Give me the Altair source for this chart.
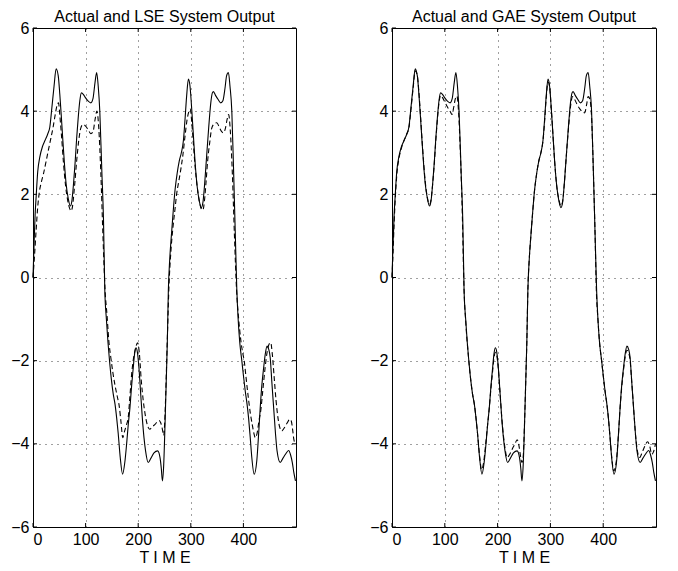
import altair as alt
import pandas as pd

# ---------------- data ----------------
act_t = [0, 2, 4, 6, 9, 13, 18, 23, 28, 32, 36, 40, 44, 48, 51, 54, 57, 60, 63, 67, 71, 74, 77, 80,
         83, 86, 89, 92, 96, 100, 105, 110, 114, 118, 121, 124, 127, 131, 134, 136.5, 139.5, 142.5,
         145, 149, 152.5, 156, 159, 162, 166, 170.3, 174.5, 178, 181, 184.3, 187.5, 190.6, 193, 195.7,
         198.5, 201.4, 204.5, 207.8, 211, 214, 219, 224, 230, 237, 241.5, 244, 246, 248.5, 251, 253.3,
         255.4, 257.3, 260, 263, 266, 270, 274, 278, 282, 286, 289, 292, 295.5, 298.5, 302, 305, 308,
         312, 316, 320, 323, 326, 330, 334, 338, 341, 343, 347, 352, 357, 361, 365, 368, 371.5, 374.5,
         378, 381.5, 384.5, 387.5, 390, 393, 397, 400, 403.5, 407, 410, 413, 416, 420.5, 425.5, 429,
         432, 435, 438.5, 441.5, 445, 448, 451, 454, 457.5, 461, 464, 470, 475, 480, 486, 490, 493,
         496, 499]
act_y = [0.0, 0.8, 1.5, 1.95, 2.55, 2.9, 3.15, 3.3, 3.45, 3.62, 4.1, 4.6, 5.02, 4.85, 4.4, 3.84,
         3.25, 2.7, 2.25, 1.9, 1.72, 1.85, 2.25, 2.75, 3.35, 3.85, 4.25, 4.44, 4.4, 4.32, 4.24, 4.2,
         4.3, 4.7, 4.93, 4.6, 4.0, 2.5, 1.4, -0.3, -1.0, -1.55, -1.93, -2.45, -2.8, -3.05, -3.37,
         -3.75, -4.35, -4.73, -4.45, -4.0, -3.55, -3.13, -2.6, -2.17, -1.85, -1.69, -1.8, -2.17,
         -2.75, -3.37, -3.85, -4.17, -4.45, -4.35, -4.22, -4.17, -4.33, -4.6, -4.89, -4.5, -3.53,
         -2.5, -1.53, -0.32, 0.45, 1.0, 1.5, 2.1, 2.5, 2.8, 3.0, 3.3, 3.8, 4.35, 4.77, 4.6, 4.0, 3.4,
         2.8, 2.2, 1.85, 1.68, 1.8, 2.2, 2.9, 3.6, 4.2, 4.44, 4.47, 4.38, 4.28, 4.2, 4.25, 4.55, 4.85,
         4.93, 4.6, 4.0, 2.5, 1.1, -0.3, -1.0, -1.55, -2.0, -2.35, -2.73, -3.05, -3.4, -3.85, -4.33,
         -4.73, -4.4, -3.75, -3.13, -2.6, -2.17, -1.85, -1.65, -1.72, -1.93, -2.5, -3.13, -3.75,
         -4.17, -4.45, -4.35, -4.25, -4.16, -4.28, -4.45, -4.7, -4.89]

lse_t = [0, 3, 6, 9, 12, 16, 20, 25, 29, 34, 38, 42, 46, 48.5, 51, 54, 58, 62, 66, 70, 72.5, 75, 79,
         83, 87, 91, 95, 100, 105, 110, 114, 118, 121.5, 125, 129, 133, 137, 141, 144, 148, 152, 156,
         160, 164, 167.5, 170.5, 174, 177.5, 181, 184, 187.5, 191, 194, 199, 202, 206, 209.7, 214,
         218, 222, 226, 232, 239.5, 243, 246, 248.5, 251, 253.5, 256, 258.5, 262, 266, 270, 273, 277,
         281, 285, 289, 293, 296.5, 299, 302, 305, 308, 312, 316, 320, 323, 326, 329, 332, 336, 340,
         345, 349.5, 354, 358, 362, 366, 369, 372, 375, 379, 383, 387, 391, 395, 398.5, 401.5, 405,
         409, 413, 417, 420, 422.6, 426, 429.5, 433, 437, 441, 445, 449, 452, 455, 458.5, 462, 466,
         469, 473, 477, 480, 484, 488, 491, 494, 496, 499]
lse_y = [0.0, 0.55, 1.15, 1.7, 2.05, 2.3, 2.5, 2.8, 3.05, 3.35, 3.6, 3.9, 4.15, 4.2, 3.9, 3.44,
         2.75, 2.2, 1.85, 1.65, 1.6, 1.7, 2.2, 2.8, 3.3, 3.6, 3.68, 3.64, 3.55, 3.46, 3.5, 3.8, 4.0,
         3.6, 2.5, 1.0, -0.3, -0.95, -1.5, -1.93, -2.3, -2.6, -2.85, -3.1, -3.5, -3.85, -3.7, -3.55,
         -3.37, -2.9, -2.33, -1.95, -1.75, -1.57, -1.8, -2.5, -2.97, -3.35, -3.57, -3.65, -3.6, -3.53,
         -3.44, -3.5, -3.65, -3.8, -3.3, -2.3, -1.2, -0.2, 0.6, 1.2, 1.65, 2.0, 2.3, 2.6, 2.95, 3.4,
         3.8, 4.0, 4.05, 3.7, 3.2, 2.7, 2.2, 1.85, 1.65, 1.62, 1.85, 2.3, 2.8, 3.25, 3.6, 3.7, 3.72,
         3.62, 3.52, 3.48, 3.6, 3.8, 3.92, 3.55, 2.5, 1.0, -0.3, -1.0, -1.5, -1.8, -2.0, -2.4, -2.85,
         -3.25, -3.55, -3.75, -3.85, -3.75, -3.45, -3.2, -2.7, -2.2, -1.8, -1.6, -1.57, -1.85, -2.4,
         -2.95, -3.4, -3.6, -3.69, -3.63, -3.57, -3.48, -3.41, -3.45, -3.7, -3.9, -4.0]

gae_t = [0, 2, 4, 6, 9, 13, 18, 23, 28, 32, 36, 40, 44, 48, 51, 54, 57, 60, 63, 67, 71, 74, 77, 80,
         83, 86, 89, 92, 96, 100, 105, 110, 113.5, 117, 120, 123, 126, 129.5, 133, 136.5, 140, 145,
         149, 152.5, 156, 159, 162, 166, 169.5, 173.5, 177.5, 181, 184.3, 187.5, 190.6, 193, 196,
         198.5, 201.4, 204.5, 207.8, 211, 214, 218, 223, 228, 233, 237, 240.5, 243.5, 246, 248.5, 251,
         253.3, 255.4, 257.3, 260, 263, 266, 270, 274, 278, 282, 286, 289, 292, 295.5, 298.5, 302,
         305, 308, 312, 316, 320, 323, 326, 330, 334, 338, 342, 346, 351, 356, 361, 365, 368.5, 371.5,
         374.5, 378, 381.5, 384.5, 387, 390, 393, 397, 400, 403.5, 407, 410, 413, 416, 420, 424.5,
         428.5, 432, 435, 438.5, 441.5, 445, 448, 451, 454, 457.5, 461, 464, 469, 474, 479, 484, 488,
         492, 495, 499]
gae_y = [0.0, 0.6, 1.3, 1.85, 2.45, 2.85, 3.12, 3.3, 3.45, 3.6, 4.05, 4.55, 4.97, 4.85, 4.45, 3.9,
         3.3, 2.75, 2.3, 1.92, 1.76, 1.88, 2.25, 2.72, 3.3, 3.8, 4.2, 4.38, 4.32, 4.22, 4.1, 4.0, 3.92,
         4.1, 4.3, 4.36, 4.0, 3.0, 1.6, -0.3, -1.13, -1.93, -2.45, -2.8, -3.05, -3.37, -3.75, -4.3,
         -4.62, -4.45, -4.0, -3.55, -3.13, -2.65, -2.25, -1.95, -1.8, -1.88, -2.2, -2.75, -3.35, -3.8,
         -4.1, -4.33, -4.25, -4.12, -4.0, -3.9, -4.05, -4.3, -4.45, -4.3, -3.5, -2.5, -1.53, -0.32,
         0.45, 1.0, 1.5, 2.1, 2.5, 2.8, 3.0, 3.3, 3.75, 4.3, 4.7, 4.58, 4.0, 3.4, 2.8, 2.2, 1.88,
         1.72, 1.82, 2.2, 2.9, 3.55, 4.1, 4.35, 4.28, 4.15, 4.05, 3.98, 3.96, 4.15, 4.35, 4.3, 3.85,
         2.5, 1.1, -0.3, -1.0, -1.55, -2.0, -2.35, -2.73, -3.05, -3.4, -3.85, -4.3, -4.65, -4.45,
         -3.85, -3.13, -2.65, -2.22, -1.92, -1.75, -1.8, -2.0, -2.5, -3.13, -3.75, -4.1, -4.33, -4.2,
         -4.05, -3.95, -4.05, -4.25, -4.2, -4.0]

x_ticks = [0, 100, 200, 300, 400]
y_ticks = [-6, -4, -2, 0, 2, 4, 6]
titles = ["Actual and LSE System Output", "Actual and GAE System Output"]
x_title = "T I M E"

# ---------------- chart ----------------
FONT = "Liberation Sans"
W, H = 263, 499
TICK = 4

xscale = alt.Scale(domain=[0, 500], nice=False, zero=False)
yscale = alt.Scale(domain=[-6, 6], nice=False, zero=False)
x_axis = alt.Axis(values=x_ticks, title=x_title, grid=True)
y_axis = alt.Axis(values=y_ticks, title=None, grid=True)

actual_df = pd.DataFrame({"t": act_t, "y": act_y})
xt_df = pd.DataFrame({"t": x_ticks})
yt_df = pd.DataFrame({"y": y_ticks})


def panel(est_t, est_y, title, width):
    est_df = pd.DataFrame({"t": est_t, "y": est_y})
    x_enc = alt.X("t:Q", scale=xscale, axis=x_axis, title=x_title)
    y_enc = alt.Y("y:Q", scale=yscale, axis=y_axis, title=None)
    solid = alt.Chart(actual_df).mark_line(color="black", strokeWidth=1.1,
                                           interpolate="monotone").encode(x=x_enc, y=y_enc)
    dashed = alt.Chart(est_df).mark_line(color="black", strokeWidth=1.1, strokeDash=[5, 3],
                                         interpolate="monotone").encode(x=x_enc, y=y_enc)
    bt = alt.Chart(xt_df).mark_rule(color="black").encode(
        x=x_enc, y=alt.value(H), y2=alt.value(H - TICK))
    tt = alt.Chart(xt_df).mark_rule(color="black").encode(
        x=x_enc, y=alt.value(0), y2=alt.value(TICK))
    lt = alt.Chart(yt_df).mark_rule(color="black").encode(
        y=y_enc, x=alt.value(0), x2=alt.value(TICK))
    rt = alt.Chart(yt_df).mark_rule(color="black").encode(
        y=y_enc, x=alt.value(width), x2=alt.value(width - TICK))
    return alt.layer(solid, dashed, bt, tt, lt, rt).properties(
        width=width, height=H, title=alt.TitleParams(text=title, frame="group"))


left = panel(lse_t, lse_y, titles[0], W)
right = panel(gae_t, gae_y, titles[1], 264)

chart = alt.hconcat(left, right, spacing=70).properties(
    padding={"left": 2, "top": 0, "right": 0, "bottom": 0}
).configure_view(
    stroke="black", strokeWidth=1
).configure_axis(
    domain=False, ticks=False, labelPadding=4, labelFont=FONT, labelFontSize=16,
    labelColor="black", gridColor="black", gridDash=[1, 5], gridOpacity=0.75, gridWidth=1,
    titleFont=FONT, titleFontSize=16, titleFontWeight="normal", titleColor="black",
    titlePadding=2
).configure_title(
    font=FONT, fontSize=16, fontWeight="normal", color="black", offset=-5, anchor="middle"
)

chart.save("out.html", embed_options={"renderer": "svg", "actions": False})
